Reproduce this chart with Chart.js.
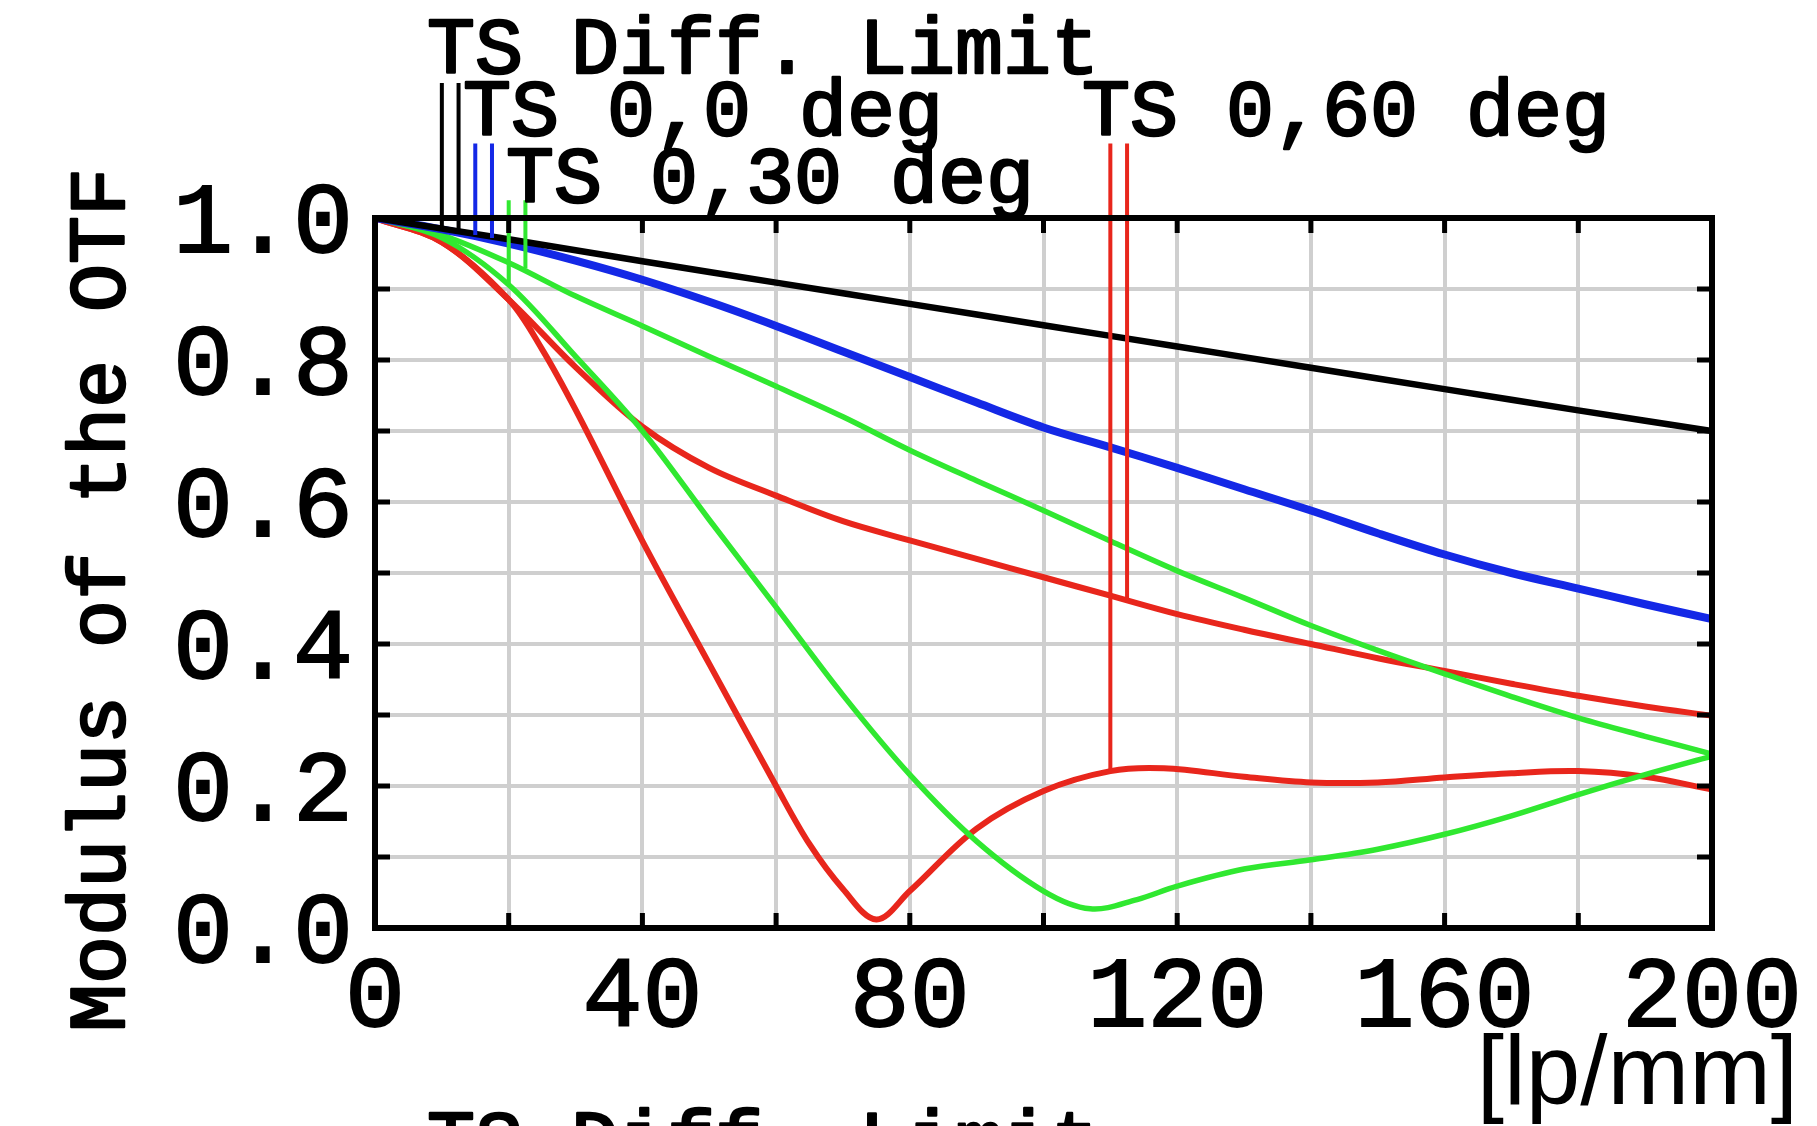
<!DOCTYPE html>
<html>
<head>
<meta charset="utf-8">
<script src="https://cdn.jsdelivr.net/npm/chart.js@4.4.1/dist/chart.umd.min.js"></script>
<style>
  html, body { margin: 0; padding: 0; background: #fff; }
  #wrap { width: 1817px; height: 1126px; position: relative; }
</style>
</head>
<body>
<div id="wrap"><canvas id="mtfChart"></canvas></div>
<script>
// Spatial frequency samples [lp/mm] and MTF values
const xTicks = [0, 40, 80, 120, 160, 200];
const yTicks = [0.0, 0.2, 0.4, 0.6, 0.8, 1.0];

const diffFreq = [0, 20, 40, 60, 80, 100, 120, 140, 160, 180, 200];
const diffMtf  = [1.0, 0.970, 0.939, 0.909, 0.879, 0.849, 0.819, 0.789, 0.759, 0.729, 0.700];

const freq10 = [0, 10, 20, 30, 40, 50, 60, 70, 80, 90, 100, 110, 120, 130, 140, 150, 160, 170, 180, 190, 200];
const deg0Mtf  = [1.0, 0.984, 0.964, 0.940, 0.913, 0.882, 0.848, 0.812, 0.776, 0.740, 0.705, 0.677, 0.648, 0.618, 0.588, 0.556, 0.526, 0.500, 0.478, 0.456, 0.435];
const deg30SMtf = [1.0, 0.976, 0.937, 0.890, 0.848, 0.805, 0.763, 0.720, 0.673, 0.630, 0.588, 0.545, 0.503, 0.465, 0.426, 0.391, 0.358, 0.326, 0.296, 0.270, 0.245];

const deg30TFreq = [0, 10, 20, 30, 40, 50, 60, 70, 80, 90, 100, 107, 114, 120, 130, 140, 150, 160, 170, 180, 190, 200];
const deg30TMtf  = [1.0, 0.972, 0.906, 0.805, 0.700, 0.575, 0.452, 0.328, 0.216, 0.122, 0.052, 0.027, 0.040, 0.059, 0.083, 0.096, 0.111, 0.132, 0.158, 0.188, 0.216, 0.242];

const deg60SFreq = [0, 10, 20, 30, 40, 50, 60, 70, 80, 90, 100, 110, 120, 130, 140, 150, 160, 170, 180, 190, 200];
const deg60SMtf  = [1.0, 0.966, 0.885, 0.790, 0.706, 0.648, 0.609, 0.573, 0.546, 0.520, 0.494, 0.468, 0.442, 0.420, 0.400, 0.380, 0.362, 0.344, 0.327, 0.312, 0.299];

const deg60TFreq = [0, 10, 20, 25, 30, 40, 50, 60, 65, 70, 75, 80, 90, 100, 110, 118, 130, 140, 150, 160, 170, 180, 190, 200];
const deg60TMtf  = [1.0, 0.966, 0.885, 0.815, 0.730, 0.545, 0.372, 0.200, 0.118, 0.055, 0.012, 0.052, 0.140, 0.193, 0.221, 0.225, 0.213, 0.205, 0.205, 0.212, 0.218, 0.221, 0.213, 0.195];

// Legend pointer lines: frequency, top value, value where they meet the curve
const markerFreq   = [10, 12.5, 15, 17.5, 20, 22.5, 110, 112.5];
const markerTop    = [1.19, 1.19, 1.105, 1.105, 1.025, 1.025, 1.105, 1.105];
const markerBottom = [0.985, 0.981, 0.976, 0.972, 0.906, 0.929, 0.221, 0.461];
const markerColor  = ['black', 'black', 'blue', 'blue', 'green', 'green', 'red', 'red'];

const colors = { black: '#000000', blue: '#1428e6', green: '#30e830', red: '#e8261c' };

function toPoints(xs, ys) {
    return xs.map((x, i) => ({ x: x, y: ys[i] }));
}

function curve(label, xs, ys, color, width) {
    return {
        label: label,
        data: toPoints(xs, ys),
        borderColor: color,
        borderWidth: width,
        pointRadius: 0,
        tension: 0.35,
        fill: false
    };
}

const datasets = [];
markerFreq.forEach((f, i) => {
    datasets.push({
        label: 'marker' + i,
        data: [{ x: f, y: markerTop[i] }, { x: f, y: markerBottom[i] }],
        borderColor: colors[markerColor[i]],
        borderWidth: 4,
        pointRadius: 0,
        tension: 0,
        clip: false
    });
});
datasets.push(curve('TS Diff. Limit', diffFreq, diffMtf, colors.black, 6.5));
datasets.push(curve('TS 0,0 deg', freq10, deg0Mtf, colors.blue, 8));
datasets.push(curve('TS 0,30 deg S', freq10, deg30SMtf, colors.green, 5.5));
datasets.push(curve('TS 0,30 deg T', deg30TFreq, deg30TMtf, colors.green, 5.5));
datasets.push(curve('TS 0,60 deg S', deg60SFreq, deg60SMtf, colors.red, 6));
datasets.push(curve('TS 0,60 deg T', deg60TFreq, deg60TMtf, colors.red, 6));

const mono = '"Liberation Mono", "DejaVu Sans Mono", monospace';

function heavyText(ctx, text, x, y) {
    ctx.strokeText(text, x, y);
    ctx.fillText(text, x, y);
}

// Frame, inward ticks and the text annotations
const framePlugin = {
    id: 'frame',
    afterDatasetsDraw(chart) {
        const ctx = chart.ctx;
        const a = chart.chartArea;
        const xs = chart.scales.x;
        const ys = chart.scales.y;
        ctx.save();
        ctx.strokeStyle = '#000';
        ctx.lineWidth = 5;
        for (let v = 20; v < 200; v += 20) {
            const px = xs.getPixelForValue(v);
            ctx.beginPath();
            ctx.moveTo(px, a.bottom); ctx.lineTo(px, a.bottom - 15);
            ctx.moveTo(px, a.top); ctx.lineTo(px, a.top + 15);
            ctx.stroke();
        }
        for (let k = 1; k < 10; k++) {
            const py = ys.getPixelForValue(k / 10);
            ctx.beginPath();
            ctx.moveTo(a.left, py); ctx.lineTo(a.left + 15, py);
            ctx.moveTo(a.right, py); ctx.lineTo(a.right - 15, py);
            ctx.stroke();
        }
        ctx.lineWidth = 6;
        ctx.strokeRect(a.left, a.top, a.right - a.left, a.bottom - a.top);
        ctx.restore();
    },
    afterDraw(chart) {
        const ctx = chart.ctx;
        ctx.save();
        ctx.fillStyle = '#000';
        ctx.strokeStyle = '#000';
        ctx.lineWidth = 2.5;
        ctx.lineJoin = 'round';
        ctx.font = '80px ' + mono;
        ctx.textAlign = 'left';
        ctx.textBaseline = 'alphabetic';
        heavyText(ctx, 'TS Diff. Limit', 427, 73);
        heavyText(ctx, 'TS 0,0 deg', 463, 135);
        heavyText(ctx, 'TS 0,60 deg', 1082, 135);
        heavyText(ctx, 'TS 0,30 deg', 506, 202);
        heavyText(ctx, 'TS Diff. Limit', 427, 1166);

        ctx.save();
        ctx.translate(103, 600);
        ctx.rotate(-Math.PI / 2);
        ctx.textAlign = 'center';
        ctx.textBaseline = 'middle';
        heavyText(ctx, 'Modulus of the OTF', 0, 0);
        ctx.restore();

        ctx.font = '98px "Liberation Sans", Arial, sans-serif';
        ctx.textAlign = 'right';
        ctx.fillText('[lp/mm]', 1798, 1104);
        ctx.restore();
    }
};

const tickFont = { family: mono, size: 100, weight: 'normal' };

new Chart(document.getElementById('mtfChart').getContext('2d'), {
    type: 'line',
    data: { datasets: datasets },
    options: {
        responsive: true,
        maintainAspectRatio: false,
        animation: false,
        layout: { padding: { top: 218, right: 105, left: 0, bottom: 0 } },
        plugins: {
            legend: { display: false },
            tooltip: { enabled: false }
        },
        scales: {
            x: {
                type: 'linear',
                min: 0,
                max: 200,
                border: { display: false },
                grid: { color: '#cfcfcf', lineWidth: 4, drawTicks: false },
                ticks: {
                    stepSize: 20,
                    autoSkip: false,
                    maxRotation: 0,
                    padding: 12,
                    color: '#000',
                    textStrokeColor: '#000',
                    textStrokeWidth: 2,
                    font: tickFont,
                    callback: v => xTicks.includes(v) ? String(v) : ''
                },
                afterFit: s => { s.height = 198; }
            },
            y: {
                type: 'linear',
                min: 0,
                max: 1,
                border: { display: false },
                grid: { color: '#cfcfcf', lineWidth: 4, drawTicks: false },
                ticks: {
                    stepSize: 0.1,
                    autoSkip: false,
                    padding: 22,
                    labelOffset: 8,
                    color: '#000',
                    textStrokeColor: '#000',
                    textStrokeWidth: 2,
                    font: tickFont,
                    callback: v => {
                        const r = Math.round(v * 10) / 10;
                        return yTicks.includes(r) ? r.toFixed(1) : '';
                    }
                },
                afterFit: s => { s.width = 375; }
            }
        }
    },
    plugins: [framePlugin]
});
</script>
</body>
</html>
